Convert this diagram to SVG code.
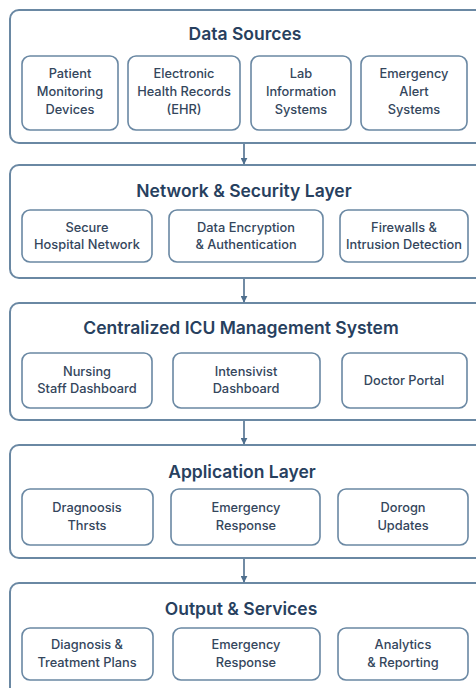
<svg xmlns="http://www.w3.org/2000/svg" width="476" height="688" viewBox="0 0 476 688">
<defs>
<style>
.layer{fill:#ffffff;stroke:#6a88a3;stroke-width:2}
.item{fill:#ffffff;stroke:#6a88a3;stroke-width:1.6}
.title{font-family:Inter,"Liberation Sans",sans-serif;font-weight:600;font-size:17.5px;fill:#27405e;text-anchor:middle}
.lbl{font-family:Inter,"Liberation Sans",sans-serif;font-weight:500;font-size:12.8px;fill:#34465c;text-anchor:middle}
.conn{stroke:#4f6f8e;stroke-width:1.6;fill:none}
</style>
<marker id="ah" viewBox="0 0 10 10" refX="9" refY="5" markerWidth="7" markerHeight="7" markerUnits="userSpaceOnUse" orient="auto">
<path d="M0,0 L10,5 L0,10 z" fill="#4f6f8e"/>
</marker>
</defs>
<rect width="476" height="688" fill="#ffffff"/>

<g id="data-sources">
<rect class="layer" x="10" y="10" width="474" height="133" rx="9"/>
<text class="title" x="245" y="40">Data Sources</text>
<g id="patient-monitoring">
<rect class="item" x="22" y="56" width="96" height="74" rx="8"/>
<text class="lbl" x="70" y="78">Patient</text>
<text class="lbl" x="70" y="96">Monitoring</text>
<text class="lbl" x="70" y="114">Devices</text>
</g>
<g id="ehr">
<rect class="item" x="128" y="56" width="112" height="74" rx="8"/>
<text class="lbl" x="184" y="78">Electronic</text>
<text class="lbl" x="184" y="96">Health Records</text>
<text class="lbl" x="184" y="114">(EHR)</text>
</g>
<g id="lab-info">
<rect class="item" x="251" y="56" width="100" height="74" rx="8"/>
<text class="lbl" x="301" y="78">Lab</text>
<text class="lbl" x="301" y="96">Information</text>
<text class="lbl" x="301" y="114">Systems</text>
</g>
<g id="emergency-alert">
<rect class="item" x="361" y="56" width="106" height="74" rx="8"/>
<text class="lbl" x="414" y="78">Emergency</text>
<text class="lbl" x="414" y="96">Alert</text>
<text class="lbl" x="414" y="114">Systems</text>
</g>
</g>

<g id="network-security">
<rect class="layer" x="10" y="165" width="474" height="113" rx="9"/>
<text class="title" x="244" y="197">Network &amp; Security Layer</text>
<g id="secure-network">
<rect class="item" x="22" y="210" width="130" height="52" rx="8"/>
<text class="lbl" x="87" y="232">Secure</text>
<text class="lbl" x="87" y="249">Hospital Network</text>
</g>
<g id="encryption">
<rect class="item" x="169" y="210" width="154" height="52" rx="8"/>
<text class="lbl" x="246" y="232">Data Encryption</text>
<text class="lbl" x="246" y="249">&amp; Authentication</text>
</g>
<g id="firewalls">
<rect class="item" x="340" y="210" width="128" height="52" rx="8"/>
<text class="lbl" x="404" y="232">Firewalls &amp;</text>
<text class="lbl" x="404" y="249" textLength="116" lengthAdjust="spacingAndGlyphs">Intrusion Detection</text>
</g>
</g>

<g id="icu-management">
<rect class="layer" x="10" y="303" width="474" height="117" rx="9"/>
<text class="title" x="241" y="334">Centralized ICU Management System</text>
<g id="nursing-dashboard">
<rect class="item" x="22" y="353" width="130" height="55" rx="8"/>
<text class="lbl" x="87" y="376">Nursing</text>
<text class="lbl" x="87" y="393">Staff Dashboard</text>
</g>
<g id="intensivist-dashboard">
<rect class="item" x="173" y="353" width="147" height="55" rx="8"/>
<text class="lbl" x="246" y="376">Intensivist</text>
<text class="lbl" x="246" y="393">Dashboard</text>
</g>
<g id="doctor-portal">
<rect class="item" x="342" y="353" width="125" height="55" rx="8"/>
<text class="lbl" x="404" y="385">Doctor Portal</text>
</g>
</g>

<g id="application-layer">
<rect class="layer" x="10" y="445" width="474" height="113" rx="9"/>
<text class="title" x="242" y="478">Application Layer</text>
<g id="diagnosis-thrts">
<rect class="item" x="22" y="489" width="131" height="56" rx="8"/>
<text class="lbl" x="87" y="512">Dragnoosis</text>
<text class="lbl" x="87" y="530">Thrsts</text>
</g>
<g id="emergency-response-app">
<rect class="item" x="171" y="489" width="149" height="56" rx="8"/>
<text class="lbl" x="246" y="512">Emergency</text>
<text class="lbl" x="246" y="530">Response</text>
</g>
<g id="dorogn-updates">
<rect class="item" x="338" y="489" width="130" height="56" rx="8"/>
<text class="lbl" x="403" y="512">Dorogn</text>
<text class="lbl" x="403" y="530">Updates</text>
</g>
</g>

<g id="output-services">
<rect class="layer" x="10" y="583" width="474" height="120" rx="9"/>
<text class="title" x="241" y="615">Output &amp; Services</text>
<g id="diagnosis-plans">
<rect class="item" x="22" y="628" width="131" height="52" rx="8"/>
<text class="lbl" x="87" y="649">Diagnosis &amp;</text>
<text class="lbl" x="87" y="667">Treatment Plans</text>
</g>
<g id="emergency-response-out">
<rect class="item" x="173" y="628" width="147" height="52" rx="8"/>
<text class="lbl" x="246" y="649">Emergency</text>
<text class="lbl" x="246" y="667">Response</text>
</g>
<g id="analytics">
<rect class="item" x="338" y="628" width="130" height="52" rx="8"/>
<text class="lbl" x="403" y="649">Analytics</text>
<text class="lbl" x="403" y="667">&amp; Reporting</text>
</g>
</g>

<g id="connectors">
<line class="conn" x1="244" y1="144" x2="244" y2="164" marker-end="url(#ah)"/>
<line class="conn" x1="244" y1="279" x2="244" y2="302" marker-end="url(#ah)"/>
<line class="conn" x1="244" y1="421" x2="244" y2="444" marker-end="url(#ah)"/>
<line class="conn" x1="244" y1="559" x2="244" y2="582" marker-end="url(#ah)"/>
</g>
</svg>
